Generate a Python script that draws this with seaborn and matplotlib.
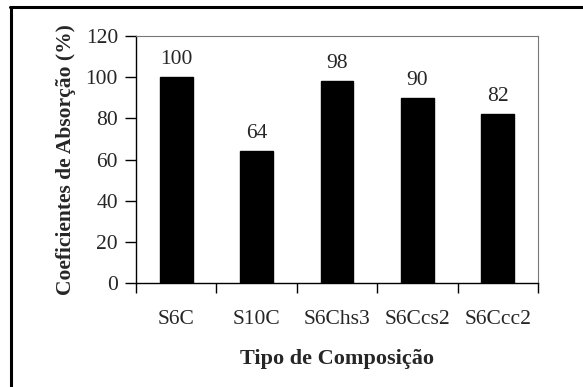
import matplotlib
matplotlib.use("Agg")
import matplotlib.pyplot as plt
from matplotlib.lines import Line2D
import seaborn as sns
import pandas as pd

categories = ["S6C", "S10C", "S6Chs3", "S6Ccs2", "S6Ccc2"]
values = [100, 64, 98, 90, 82]
yticks = [0, 20, 40, 60, 80, 100, 120]

sns.set_theme(style="white")
plt.rcParams["font.family"] = ["Liberation Serif", "DejaVu Serif"]

df = pd.DataFrame({"comp": categories, "coef": values})

W, H = 583, 387
fig = plt.figure(figsize=(W / 100, H / 100), dpi=100)
ax = fig.add_axes([136 / W, 1 - 283 / H, (538 - 136) / W, (283 - 36) / H])

sns.barplot(data=df, x="comp", y="coef", color="black", width=0.41,
            saturation=1, ax=ax, edgecolor="black")

FS = 15.5
ax.set_ylim(0, 120)
ax.set_xlim(-0.5, len(categories) - 0.5)
ax.set_yticks(yticks)
ax.set_yticklabels([str(t) for t in yticks], fontsize=FS)
ax.set_xticks(range(len(categories)))
ax.set_xticklabels(categories, fontsize=FS)

# ticks at the boundaries between categories
ax.set_xticks([i - 0.5 for i in range(len(categories) + 1)], minor=True)
ax.tick_params(axis="x", which="major", length=0, pad=19.5)
ax.tick_params(axis="x", which="minor", length=7, width=1, color="black",
               direction="out", bottom=True)
ax.tick_params(axis="y", length=8, width=1, color="black", direction="out",
               left=True, pad=5)

for s in ["left", "bottom"]:
    ax.spines[s].set_color("black")
    ax.spines[s].set_linewidth(1.0)
for s in ["top", "right"]:
    ax.spines[s].set_color("#777777")
    ax.spines[s].set_linewidth(0.8)

for i, v in enumerate(values):
    ax.text(i, v + 4, str(v), ha="center", va="bottom", fontsize=FS)

ax.set_xlabel("Tipo de Composição", fontsize=16, fontweight="bold", labelpad=14)
ax.set_ylabel("Coeficientes de Absorção (%)", fontsize=15.5, fontweight="bold",
              labelpad=7)

# frame around the figure (left and top edges)
fig.add_artist(Line2D([10.5 / W, 10.5 / W], [0, 1 - 7 / H],
                      transform=fig.transFigure, color="black", lw=2.2))
fig.add_artist(Line2D([9.5 / W, 1], [1 - 7 / H, 1 - 7 / H],
                      transform=fig.transFigure, color="black", lw=2.2))

fig.savefig("out.png", dpi=100)
